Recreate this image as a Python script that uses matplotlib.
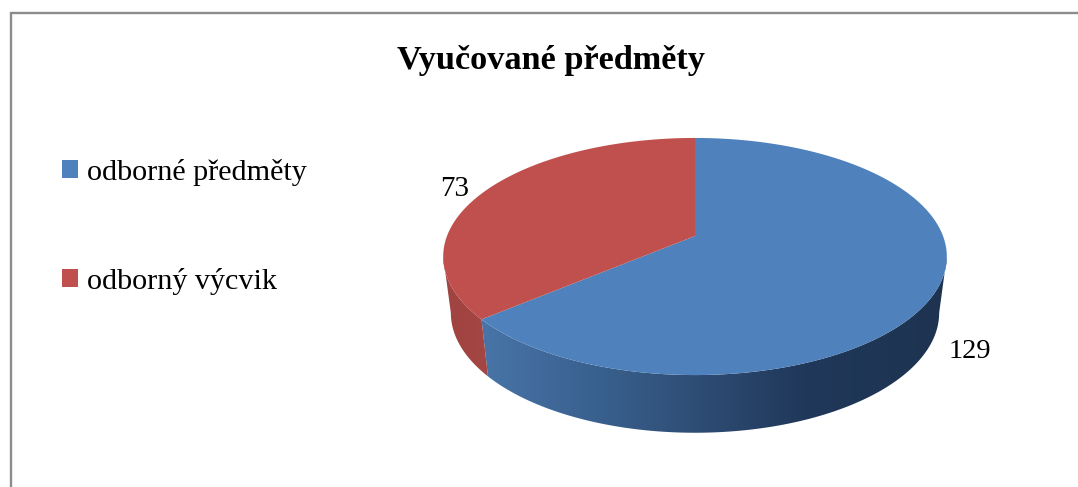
import numpy as np
import matplotlib
matplotlib.use('Agg')
import matplotlib.pyplot as plt
from matplotlib.colors import LinearSegmentedColormap
from matplotlib.patches import Patch, Polygon

# chart data
title = 'Vyučované předměty'
categories = ['odborné předměty', 'odborný výcvik']
values = [129, 73]
colors = ['#4F81BD', '#C0504D']

plt.rcParams['font.family'] = ['Liberation Serif', 'DejaVu Serif']

# pixel canvas, y goes down like in the reference
fig = plt.figure(figsize=(10.78, 4.87), dpi=100, facecolor='white')
ax = fig.add_axes([0, 0, 1, 1])
ax.set_xlim(0, 1078)
ax.set_ylim(487, 0)
ax.axis('off')

# frame, only left and top are visible
ax.plot([10.5, 10.5, 1078], [487, 12.5, 12.5], color='#8C8C8C', lw=1.7, solid_joinstyle='miter')

# perspective of the pie
K = 0.173
CX = 695
CY_TOP = 236


def ring(theta, R, A, cy):
    # theta is clockwise from the top, in radians
    u, v = np.sin(theta), np.cos(theta)
    w = 1 + K * v
    return np.column_stack([CX + R * u / w, cy - A * v / w])


def top_ring(theta):
    return ring(theta, 248, 115, CY_TOP)


def bottom_ring(theta):
    return ring(theta, 240.5, 116.4, 292)


split = 2 * np.pi * values[0] / sum(values)

# the widest points of the ellipse are where the side starts and ends
edge = np.arcsin(K)
side_right = np.linspace(np.pi / 2 + edge, split, 200)
side_left = np.linspace(split, 3 * np.pi / 2 - edge, 60)


def draw_side(angles, stops, x0, x1):
    outline = np.vstack([top_ring(angles), bottom_ring(angles)[::-1]])
    cmap = LinearSegmentedColormap.from_list('side', stops)
    im = ax.imshow(np.linspace(0, 1, 256)[None, :], cmap=cmap, aspect='auto',
                   extent=[x0, x1, 487, 0], zorder=1)
    im.set_clip_path(Polygon(outline, closed=True, transform=ax.transData))


draw_side(side_right, [(0.0, '#4A76AA'), (0.25, '#3A6290'), (0.5, '#2D4B72'),
                       (0.7, '#20385A'), (1.0, '#1D3350')], 470, 947)
draw_side(side_left, [(0.0, '#A04441'), (1.0, '#A54643')], 442, 500)
ax.set_xlim(0, 1078)
ax.set_ylim(487, 0)

# top face
apex = [CX, CY_TOP]
t1 = np.linspace(0, split, 300)
t2 = np.linspace(split, 2 * np.pi, 200)
ax.add_patch(Polygon(np.vstack([[apex], top_ring(t1)]), closed=True, fc=colors[0], ec='none', zorder=3))
ax.add_patch(Polygon(np.vstack([[apex], top_ring(t2)]), closed=True, fc=colors[1], ec='none', zorder=3))

# value labels
ax.text(454.5, 188.5, str(values[1]), fontsize=21, ha='center', va='center', color='black', zorder=5)
ax.text(970, 351, str(values[0]), fontsize=20.5, ha='center', va='center', color='black', zorder=5)

ax.text(551, 60, title, fontsize=24.7, fontweight='bold', ha='center', va='center', color='black')

handles = [Patch(fc=c, ec='none') for c in colors]
ax.legend(handles, categories, loc='upper left', bbox_to_anchor=(62 / 1078, 1 - 159 / 487),
          frameon=False, fontsize=21.7, handlelength=0.54, handleheight=0.54,
          handletextpad=0.28, labelspacing=2.72, borderpad=0, borderaxespad=0)

plt.savefig('out.png', dpi=100)
